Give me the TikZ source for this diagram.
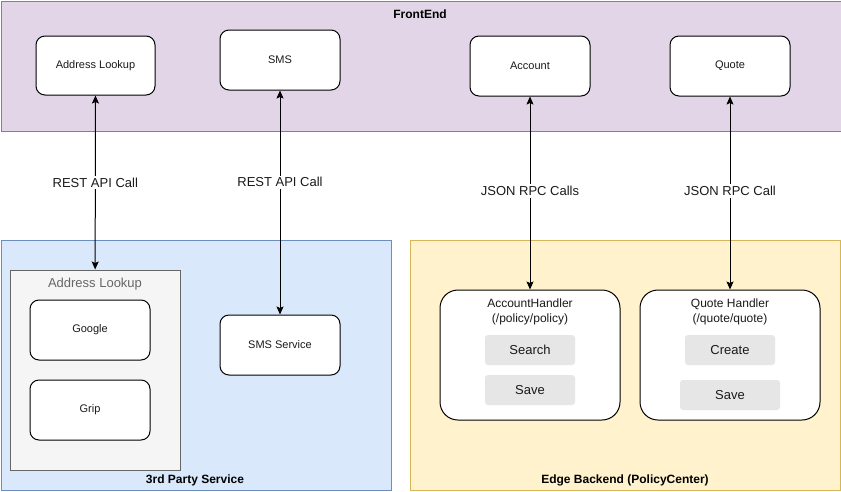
\documentclass[tikz,border=0pt]{standalone}
\usepackage{fontspec}
\setmainfont{Liberation Sans}
\usetikzlibrary{arrows.meta}
\definecolor{feFill}{HTML}{E1D5E7}
\definecolor{feLine}{HTML}{9673A6}
\definecolor{tpFill}{HTML}{DAE8FC}
\definecolor{tpLine}{HTML}{6C8EBF}
\definecolor{ebFill}{HTML}{FFF2CC}
\definecolor{ebLine}{HTML}{D6B656}
\definecolor{grpFill}{HTML}{F5F5F5}
\definecolor{grpLine}{HTML}{666666}
\definecolor{opFill}{HTML}{E6E6E6}
\definecolor{txt}{HTML}{1A1A1A}

\begin{document}
\begin{tikzpicture}[x=1pt, y=-1pt, line width=1pt]
\tikzstyle{layer}=[draw, rectangle, inner sep=0pt, anchor=north west];
\tikzstyle{box}=[draw, fill=white, rounded corners=9pt, inner sep=0pt, minimum width=120pt, minimum height=60pt, font=\fontsize{11}{13}\selectfont, text=txt];
\tikzstyle{op}=[fill=opFill, rounded corners=3pt, inner sep=0pt, minimum width=90pt, minimum height=30pt, font=\fontsize{13}{15}\selectfont, text=txt];
\tikzstyle{call}=[arrows={Stealth[length=8pt,width=7pt,inset=1.5pt]-Stealth[length=8pt,width=7pt,inset=1.5pt]}, line width=1pt];
\tikzstyle{lbl}=[fill=white, inner sep=2pt, font=\fontsize{13}{15}\selectfont, text=txt];
\useasboundingbox (0,0) rectangle (841,491);
% layers
\node [layer, fill=feFill, draw=feLine, minimum width=840pt, minimum height=130pt] (front) at (0.5,0.5) {};
\node [layer, fill=tpFill, draw=tpLine, minimum width=390pt, minimum height=250pt] (third) at (0.5,240) {};
\node [layer, fill=ebFill, draw=ebLine, minimum width=430pt, minimum height=250pt] (edge) at (410,240) {};
\node [font=\bfseries\fontsize{12}{14}\selectfont] (frontT) at (420,14) {FrontEnd};
\node [font=\bfseries\fontsize{12}{14}\selectfont] (thirdT) at (195,480) {3rd Party Service};
\node [font=\bfseries\fontsize{12}{14}\selectfont] (edgeT) at (625,480) {Edge Backend (PolicyCenter)};
% frontend
\node [box, minimum width=119pt, minimum height=59pt] (addr) at (95.5,65.5) {Address Lookup};
\node [box] (sms) at (280,60) {SMS};
\node [box] (acct) at (530,66) {Account};
\node [box] (quote) at (730,66) {Quote};
% 3rd party
\node [draw=grpLine, fill=grpFill, rectangle, inner sep=0pt, minimum width=170pt, minimum height=200pt,
  label={[anchor=north, text=grpLine, font=\fontsize{13}{15}\selectfont, yshift=-5pt]north:Address Lookup}] (addrGrp) at (95,370) {};
\node [box] (google) at (90,330) {Google};
\node [box] (grip) at (90,410) {Grip};
\node [box] (smsSvc) at (280,345) {SMS Service};
% edge backend
\node [box, rounded corners=18pt, minimum width=180pt, minimum height=130pt,
  label={[anchor=north, align=center, text=txt, font=\fontsize{12}{15}\selectfont, yshift=-5pt]north:AccountHandler\\(/policy/policy)}] (acctH) at (530,355) {};
\node [box, rounded corners=18pt, minimum width=180pt, minimum height=130pt,
  label={[anchor=north, align=center, text=txt, font=\fontsize{12}{15}\selectfont, yshift=-5pt]north:Quote Handler\\(/quote/quote)}] (quoteH) at (730,355) {};
\node [op] (search) at (530,350) {Search};
\node [op] (save1) at (530,390) {Save};
\node [op] (create) at (730,350) {Create};
\node [op, minimum width=100pt] (save2) at (730,395) {Save};
% calls
\draw [call] (addr) -- (addrGrp) node [lbl, pos=0.5] {REST API Call};
\draw [call] (sms) -- (smsSvc) node [lbl, pos=0.41] {REST API Call};
\draw [call] (acct) -- (acctH) node [lbl, pos=0.49] {JSON RPC Calls};
\draw [call] (quote) -- (quoteH) node [lbl, pos=0.49] {JSON RPC Call};
\end{tikzpicture}
\end{document}
